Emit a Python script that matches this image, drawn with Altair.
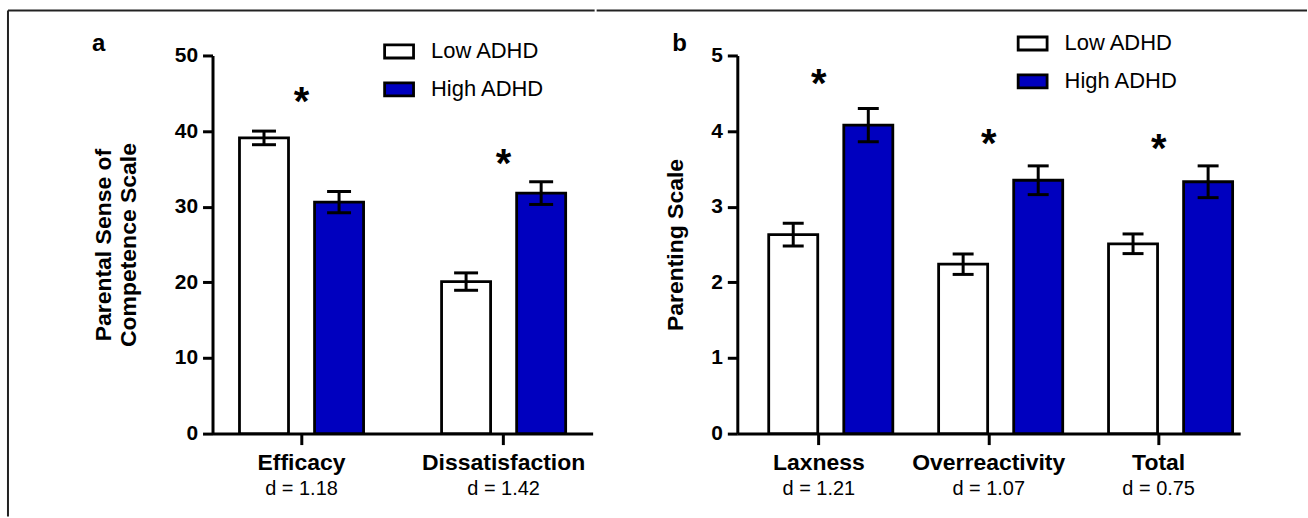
import altair as alt
import pandas as pd

F = "Liberation Sans, Arial, Helvetica, sans-serif"

groups = ["Low ADHD", "High ADHD"]
group_colors = ["#FFFFFF", "#0000BF"]

# ---- Panel a : Parental Sense of Competence Scale ----
a_cats = ["Efficacy", "Dissatisfaction"]
a_low = [39.1, 20.1]
a_low_err = [0.9, 1.15]
a_high = [30.6, 31.8]
a_high_err = [1.4, 1.5]
a_d = ["d = 1.18", "d = 1.42"]
a_star = [44.5, 36.3]
a_ticks = [0, 10, 20, 30, 40, 50]

# ---- Panel b : Parenting Scale ----
b_cats = ["Laxness", "Overreactivity", "Total"]
b_low = [2.63, 2.24, 2.51]
b_low_err = [0.15, 0.135, 0.13]
b_high = [4.08, 3.35, 3.33]
b_high_err = [0.22, 0.19, 0.21]
b_d = ["d = 1.21", "d = 1.07", "d = 0.75"]
b_star = [4.69, 3.89, 3.83]
b_ticks = [0, 1, 2, 3, 4, 5]

H = 379
BLACK = "#000000"
FRAME = "#222222"


def panel(cats, low, low_err, high, high_err, dlabels, stars, ticks, title,
          letter, W, x_pi, x_po, off_pi, off_po, cap, legx, legy,
          letx, lety, frame_left, frame_right, frame_top, left_line,
          title_pad):
    rows = []
    for i, c in enumerate(cats):
        rows.append({"cat": c, "group": groups[0], "mean": low[i], "err": low_err[i]})
        rows.append({"cat": c, "group": groups[1], "mean": high[i], "err": high_err[i]})
    df = pd.DataFrame(rows)
    sdf = pd.DataFrame({"cat": cats, "star": stars, "d": dlabels})
    one = pd.DataFrame({"k": [0]})

    xenc = alt.X("cat:N", sort=cats,
                 scale=alt.Scale(domain=cats, paddingInner=x_pi, paddingOuter=x_po),
                 axis=alt.Axis(title=None, labelAngle=0, labelFont=F, labelFontSize=23,
                               labelFontWeight="bold", labelColor=BLACK, labelPadding=7,
                               tickSize=11, tickWidth=3, tickColor=BLACK,
                               domainWidth=3, domainColor=BLACK, labelOverlap=False))
    yaxis = alt.Axis(values=ticks, title=title, grid=False, labelFont=F, labelFontSize=21,
                     labelFontWeight="bold", labelColor=BLACK, labelPadding=5,
                     tickSize=10, tickWidth=3, tickColor=BLACK, domainWidth=3,
                     domainColor=BLACK, titleFont=F, titleFontSize=23,
                     titleFontWeight="bold", titleColor=BLACK, titlePadding=title_pad,
                     titleLineHeight=25, labelOverlap=False)
    yscale = alt.Scale(domain=[0, ticks[-1]], nice=False)
    xoff = alt.XOffset("group:N", sort=groups,
                       scale=alt.Scale(domain=groups, paddingInner=off_pi, paddingOuter=off_po))

    base = alt.Chart(df).transform_calculate(
        lo="datum.mean - datum.err", hi="datum.mean + datum.err")

    bars = base.mark_bar(stroke=BLACK, strokeWidth=2.8).encode(
        x=xenc,
        xOffset=xoff,
        y=alt.Y("mean:Q", scale=yscale, axis=yaxis),
        color=alt.Color("group:N", sort=groups,
                        scale=alt.Scale(domain=groups, range=group_colors),
                        legend=alt.Legend(title=None, orient="none", legendX=legx,
                                          legendY=legy, direction="vertical",
                                          symbolType="M-1,-0.45H1V0.45H-1Z",
                                          symbolSize=841, symbolStrokeColor=BLACK,
                                          symbolStrokeWidth=2.8, labelFont=F,
                                          labelFontSize=22, labelColor=BLACK,
                                          labelOffset=16, rowPadding=9,
                                          symbolOpacity=1)),
    )
    stem = base.mark_rule(color=BLACK, strokeWidth=3).encode(
        x=xenc, xOffset=xoff,
        y=alt.Y("lo:Q", scale=yscale, axis=yaxis), y2="hi:Q")
    cap_lo = base.mark_tick(color=BLACK, thickness=3, size=cap, orient="horizontal",
                            opacity=1).encode(
        x=xenc, xOffset=xoff, y=alt.Y("lo:Q", scale=yscale, axis=yaxis))
    cap_hi = base.mark_tick(color=BLACK, thickness=3, size=cap, orient="horizontal",
                            opacity=1).encode(
        x=xenc, xOffset=xoff, y=alt.Y("hi:Q", scale=yscale, axis=yaxis))

    star = alt.Chart(sdf).mark_text(text="*", font=F, fontSize=40, fontWeight="bold",
                                    baseline="alphabetic", dy=18, color=BLACK).encode(
        x=xenc, y=alt.Y("star:Q", scale=yscale, axis=yaxis))
    dtxt = alt.Chart(sdf).mark_text(font=F, fontSize=20, baseline="middle",
                                    color=BLACK).encode(
        x=xenc, y=alt.value(H + 56), text="d:N")

    let = alt.Chart(one).mark_text(text=letter, font=F, fontSize=24, fontWeight="bold",
                                   baseline="middle", align="center", color=BLACK).encode(
        x=alt.value(letx), y=alt.value(lety))

    layers = [bars, stem, cap_lo, cap_hi, star, dtxt, let]
    top = alt.Chart(one).mark_rule(color=FRAME, strokeWidth=2).encode(
        x=alt.value(frame_left), x2=alt.value(frame_right), y=alt.value(frame_top))
    layers.append(top)
    if left_line:
        lft = alt.Chart(one).mark_rule(color=FRAME, strokeWidth=2).encode(
            x=alt.value(frame_left), y=alt.value(frame_top), y2=alt.value(462))
        layers.append(lft)
    return alt.layer(*layers).properties(width=W, height=H)


pa = panel(a_cats, a_low, a_low_err, a_high, a_high_err, a_d, a_star, a_ticks,
           ["Parental Sense of", "Competence Scale"], "a",
           W=381, x_pi=0.2574, x_po=0.0692, off_pi=0.347, off_po=0.173, cap=24,
           legx=171, legy=-20, letx=-114, lety=-11,
           frame_left=-205, frame_right=383, frame_top=-45, left_line=True,
           title_pad=34)

pb = panel(b_cats, b_low, b_low_err, b_high, b_high_err, b_d, b_star, b_ticks,
           "Parenting Scale", "b",
           W=504, x_pi=0.2573, x_po=0.1084, off_pi=0.354, off_po=0.177, cap=21,
           legx=280, legy=-28, letx=-58, lety=-11,
           frame_left=-141, frame_right=571, frame_top=-45, left_line=False,
           title_pad=23)

chart = alt.hconcat(pa, pb, spacing=0).resolve_scale(
    color="independent").resolve_legend(color="independent").properties(
    padding={"left": 7, "top": 9, "right": 0, "bottom": 0},
    background="white",
).configure_view(stroke=None)

chart.save("out.html", embed_options={"renderer": "svg", "actions": False})
